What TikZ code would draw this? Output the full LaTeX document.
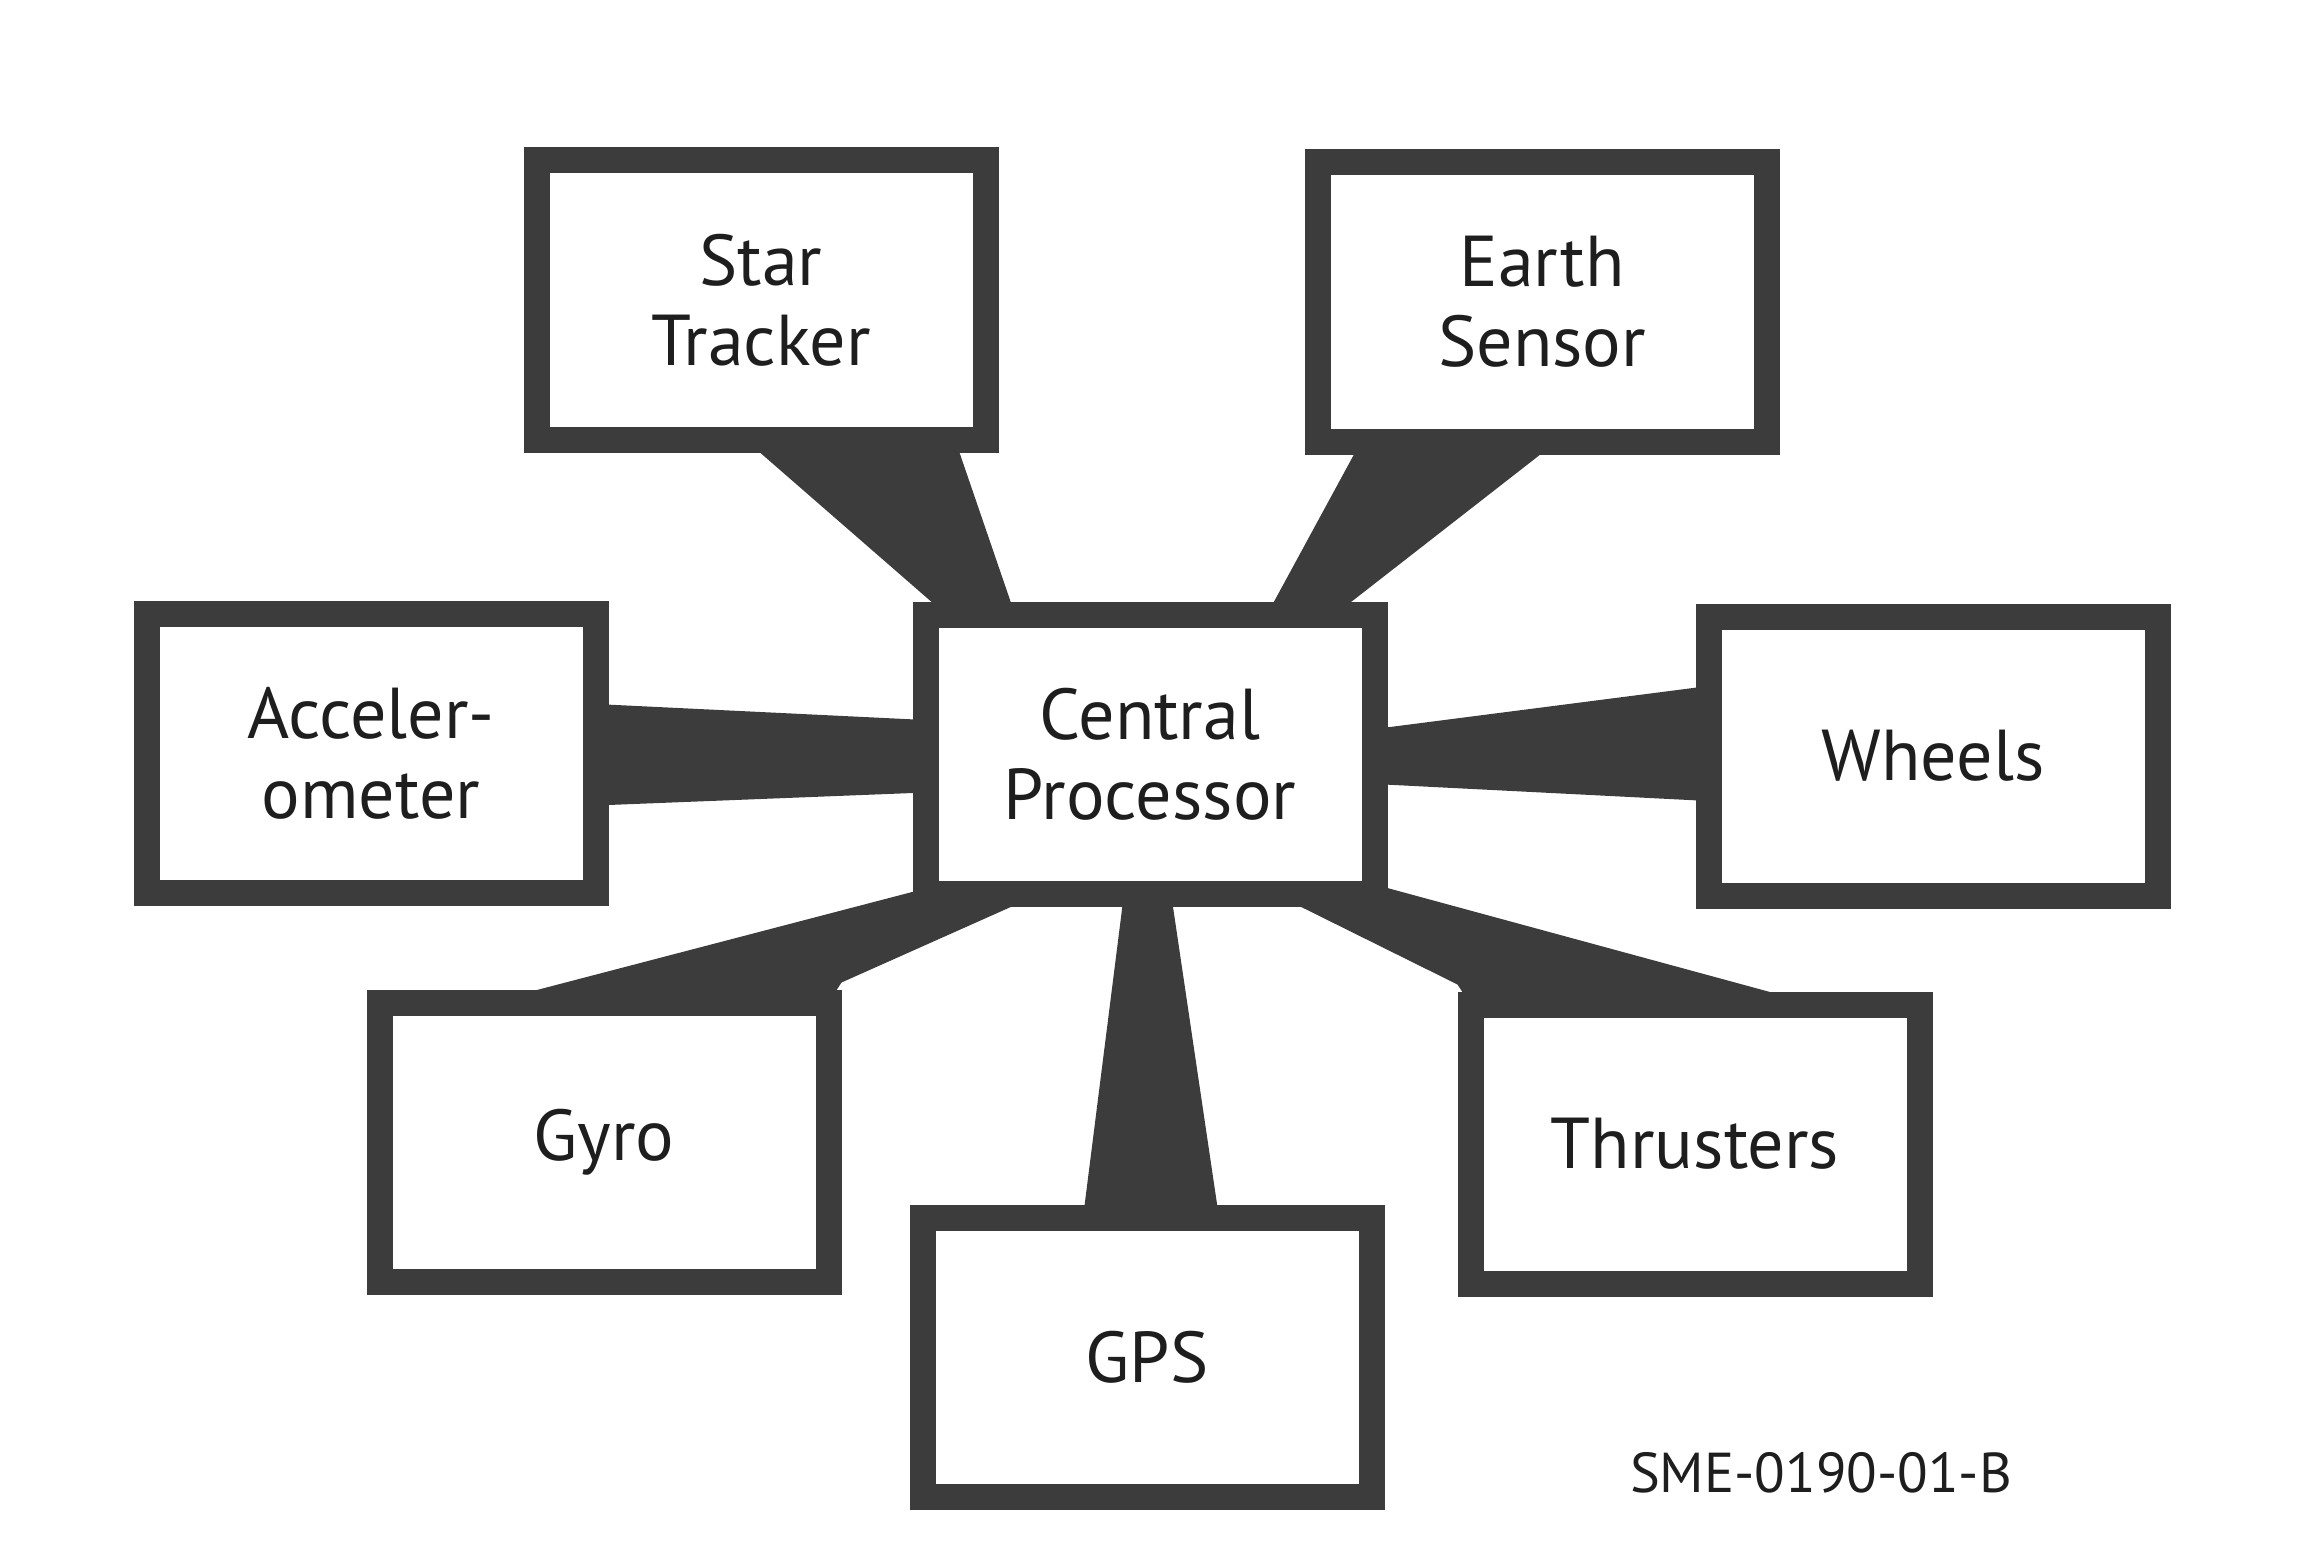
\documentclass[tikz,border=0pt]{standalone}
\usepackage{fontspec}
\setmainfont{PT Sans}
\definecolor{boxgray}{RGB}{60,60,60}
\definecolor{inkgray}{RGB}{30,30,30}
\tikzset{unit/.style={draw=boxgray,fill=white,line width=0.26cm,minimum width=4.49cm,
   minimum height=2.79cm,outer sep=0pt,inner sep=0pt,align=center,text=inkgray,
   font=\fontsize{20.5pt}{22.8pt}\selectfont},
 link/.style={fill=boxgray},
 tag/.style={text=inkgray,font=\fontsize{16pt}{18pt}\selectfont},
 every picture/.style={line join=miter}}
\begin{document}
\begin{tikzpicture}[]
\useasboundingbox (0,0) rectangle (23.10,15.66);
\node[unit] (st) at (7.61,12.66) {Star\\Tracker};
\node[unit] (es) at (15.42,12.64) {Earth\\Sensor};
\node[unit] (acc) at (3.71,8.13) {Acceler-\\ometer};
\node[unit] (cp) at (11.50,8.12) {Central\\Processor};
\node[unit] (wh) at (19.33,8.10) {Wheels};
\node[unit] (gyro) at (6.04,4.24) {Gyro};
\node[unit] (gps) at (11.47,2.09) {GPS};
\node[unit] (thr) at (16.95,4.22) {Thrusters};
\node[tag] (fig) at (18.21,0.93) {SME-0190-01-B};
% links to the processor
\fill[link] ([xshift=-0.16cm]st.south) -- ([xshift=1.94cm]st.south) -- ([xshift=-1.35cm]cp.north) -- ([xshift=-2.04cm]cp.north) -- cycle;
\fill[link] ([xshift=-1.81cm]es.south) -- ([xshift=0.15cm]es.south) -- ([xshift=1.85cm]cp.north) -- ([xshift=1.17cm]cp.north) -- cycle;
\fill[link] ([yshift=0.49cm]acc.east) -- ([yshift=0.34cm]cp.west) -- ([yshift=-0.385cm]cp.west) -- ([yshift=-0.525cm]acc.east) -- cycle;
\fill[link] ([yshift=0.25cm]cp.east) -- ([yshift=0.70cm]wh.west) -- ([yshift=-0.45cm]wh.west) -- ([yshift=-0.30cm]cp.east) -- cycle;
\fill[link] ([xshift=-1.15cm]gyro.north) -- ([yshift=0.05cm]cp.south west) -- ([xshift=-1.09cm]cp.south) -- ([shift={(0.13cm,0.2cm)}]gyro.north east) -- (gyro.north east) -- cycle;
\fill[link] ([xshift=-0.26cm]cp.south) -- ([xshift=0.21cm]cp.south) -- ([xshift=0.72cm]gps.north) -- ([xshift=-0.64cm]gps.north) -- cycle;
\fill[link] ([xshift=1.24cm]cp.south) -- ([yshift=0.09cm]cp.south east) -- ([xshift=1.21cm]thr.north) -- (thr.north west) -- ([shift={(-0.13cm,0.2cm)}]thr.north west) -- cycle;
\end{tikzpicture}
\end{document}
